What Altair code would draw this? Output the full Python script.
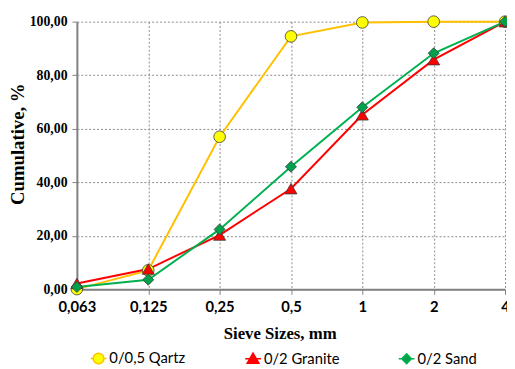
import altair as alt
import pandas as pd

sizes = ["0,063", "0,125", "0,25", "0,5", "1", "2", "4"]
series_names = ["0/0,5 Qartz", "0/2 Granite", "0/2 Sand"]
qartz = [0.1, 7.1, 57.0, 94.5, 99.7, 100.0, 100.0]
granite = [2.2, 7.6, 20.3, 37.6, 65.2, 85.8, 100.0]
sand = [0.9, 3.6, 22.4, 45.8, 68.0, 88.2, 100.0]

line_colors = ["#FFC000", "#FF0000", "#00B050"]
fill_colors = ["#FFFF00", "#FF0000", "#00A04C"]
point_shapes = ["circle", "triangle-up", "diamond"]
point_sizes = [140, 150, 125]
legend_paths = [
    "M-1,0H-0.68M0.68,0H1M-0.68,0A0.68,0.68 0 1,0 0.68,0A0.68,0.68 0 1,0 -0.68,0Z",
    "M-1,0H-0.42M0.42,0H1M0,-0.72L0.75,0.58L-0.75,0.58Z",
    "M-1,0H-0.62M0.62,0H1M0,-0.62L0.62,0L0,0.62L-0.62,0Z",
]

rows = []
for name, vals in zip(series_names, [qartz, granite, sand]):
    for s, v in zip(sizes, vals):
        rows.append({"size": s, "pct": v, "series": name})
df = pd.DataFrame(rows)

x_enc = alt.X(
    "size:N",
    sort=sizes,
    scale=alt.Scale(type="point", padding=0),
    axis=alt.Axis(
        title="Sieve Sizes, mm",
        labelAngle=0,
        labelFont="Lato",
        labelFontWeight="bold",
        labelFontSize=15,
        labelColor="#000000",
        labelPadding=6,
        tickSize=5,
        tickColor="#808080",
        domainColor="#808080",
        domainWidth=2,
        grid=True,
        gridDash=[2, 2],
        gridColor="#8a8a8a",
        titleFont="Liberation Serif",
        titleFontSize=17,
        titleFontWeight="bold",
        titleColor="#000000",
        titleX=206,
        titleY=50,
        titleBaseline="alphabetic",
    ),
)
y_enc = alt.Y(
    "pct:Q",
    scale=alt.Scale(domain=[0, 100], nice=False),
    axis=alt.Axis(
        title="Cumulative, %",
        values=[0, 20, 40, 60, 80, 100],
        labelExpr="replace(format(datum.value, '.2f'), '.', ',')",
        labelFont="Liberation Serif",
        labelFontWeight="bold",
        labelFontSize=14,
        labelColor="#000000",
        labelPadding=5,
        tickSize=5,
        tickColor="#808080",
        domainColor="#808080",
        domainWidth=2,
        grid=True,
        gridDash=[2, 2],
        gridColor="#8a8a8a",
        titleFont="Liberation Serif",
        titleFontSize=19,
        titleFontWeight="bold",
        titleColor="#000000",
        titleX=-60,
        titleY=124,
        titleAlign="center",
        titleBaseline="middle",
    ),
)

base = alt.Chart(df)

line_layers = []
point_layers = []
for name, lc, fc, shp, sz in zip(series_names, line_colors, fill_colors, point_shapes, point_sizes):
    sub = base.transform_filter(alt.datum.series == name)
    line_layers.append(
        sub.mark_line(strokeWidth=2, color=lc).encode(x=x_enc, y=y_enc)
    )
    point_layers.append(
        sub.mark_point(filled=True, shape=shp, size=sz, fill=fc, stroke="#3a3a3a",
                       strokeWidth=0.8, opacity=1).encode(x=x_enc, y=y_enc)
    )

legend_layer = (
    base.transform_filter("false")
    .mark_point(filled=True, opacity=1)
    .encode(
        x=x_enc,
        y=y_enc,
        fill=alt.Fill(
            "series:N",
            scale=alt.Scale(domain=series_names, range=fill_colors),
            legend=alt.Legend(title=None),
        ),
        stroke=alt.Stroke(
            "series:N",
            scale=alt.Scale(domain=series_names, range=line_colors),
            legend=alt.Legend(title=None),
        ),
        shape=alt.Shape(
            "series:N",
            scale=alt.Scale(domain=series_names, range=legend_paths),
            legend=alt.Legend(title=None),
        ),
    )
)

chart = (
    alt.layer(*line_layers, *point_layers, legend_layer)
    .properties(
        width=435,
        height=272,
        autosize=alt.AutoSizeParams(type="none"),
        padding={"left": 70, "top": 11, "right": 2, "bottom": 76},
    )
    .configure_view(strokeWidth=0)
    .configure_legend(
        orient="none",
        legendX=13,
        legendY=333,
        direction="horizontal",
        columnPadding=57,
        symbolSize=256,
        symbolStrokeWidth=1.5,
        labelFont="Lato",
        labelFontSize=15,
        labelColor="#000000",
        labelOffset=2,
        labelLimit=200,
    )
)

chart.save("out.html", embed_options={"renderer": "svg", "actions": False})
